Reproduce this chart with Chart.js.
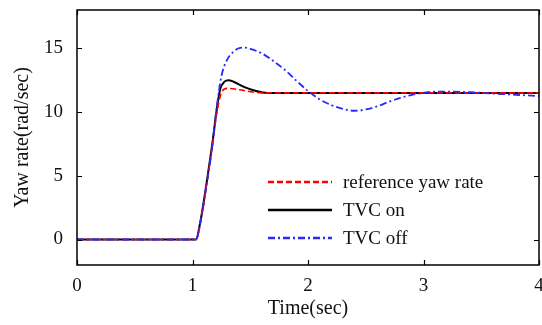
<!DOCTYPE html>
<html lang="en">
<head>
<meta charset="UTF-8">
<title>Yaw rate</title>
<script src="https://cdn.jsdelivr.net/npm/chart.js"></script>
<style>
  html, body { margin: 0; padding: 0; background: #fff; }
  #wrap { width: 542px; height: 325px; }
</style>
</head>
<body>
<div id="wrap"><canvas id="myChart" width="542" height="325"></canvas></div>
<script>
// values
var refTime = [0, 1.0, 1.03, 1.07, 1.12, 1.17, 1.21, 1.25, 1.30, 1.40, 1.50, 1.60, 2.0, 3.0, 4.0];
var refYaw  = [0, 0, 0, 1.4, 4.2, 7.2, 9.9, 11.5, 11.85, 11.75, 11.6, 11.5, 11.5, 11.5, 11.5];

var onTime = [0, 1.0, 1.03, 1.07, 1.12, 1.17, 1.21, 1.24, 1.28, 1.31, 1.36, 1.45, 1.55, 1.65, 2.0, 3.0, 4.0];
var onYaw  = [0, 0, 0, 1.5, 4.3, 7.4, 10.2, 11.8, 12.4, 12.5, 12.35, 11.95, 11.65, 11.5, 11.5, 11.5, 11.5];

var offTime = [0, 1.0, 1.03, 1.07, 1.12, 1.17, 1.21, 1.25, 1.30, 1.35, 1.40, 1.45, 1.50, 1.60, 1.70, 1.80, 1.90, 2.0,
               2.1, 2.2, 2.3, 2.4, 2.5, 2.6, 2.7, 2.8, 2.9, 3.0, 3.1, 3.2, 3.4, 3.6, 3.8, 4.0];
var offYaw  = [0, 0, 0, 1.4, 4.2, 7.2, 10.4, 12.8, 14.1, 14.7, 15.0, 15.05, 14.95, 14.6, 14.0, 13.3, 12.45, 11.65,
               11.0, 10.55, 10.25, 10.1, 10.2, 10.45, 10.8, 11.1, 11.35, 11.5, 11.6, 11.6, 11.55, 11.45, 11.35, 11.25];

var xTicks = [0, 1, 2, 3, 4];
var yTicks = [0, 5, 10, 15];
var seriesNames = ['reference yaw rate', 'TVC on', 'TVC off'];

function pts(t, v) {
  return t.map(function (x, i) { return { x: x, y: v[i] }; });
}

var serif = "'Liberation Serif', 'Times New Roman', serif";

// box round the plot with inward ticks on all four sides, MATLAB style
var frame = {
  id: 'frame',
  afterDatasetsDraw: function (chart) {
    var c = chart.ctx, a = chart.chartArea;
    var xs = chart.scales.x, ys = chart.scales.y;
    c.save();
    c.strokeStyle = '#000';
    c.lineWidth = 1.5;
    c.strokeRect(a.left, a.top, a.right - a.left, a.bottom - a.top);
    c.lineWidth = 1.2;
    c.beginPath();
    xTicks.forEach(function (t) {
      var px = Math.round(xs.getPixelForValue(t)) + 0.5;
      c.moveTo(px, a.bottom); c.lineTo(px, a.bottom - 5);
      c.moveTo(px, a.top); c.lineTo(px, a.top + 5);
    });
    yTicks.forEach(function (t) {
      var py = Math.round(ys.getPixelForValue(t)) + 0.5;
      c.moveTo(a.left, py); c.lineTo(a.left + 5, py);
      c.moveTo(a.right, py); c.lineTo(a.right - 5, py);
    });
    c.stroke();
    c.restore();
  }
};

// legend sitting inside the plot, lower right
var insideLegend = {
  id: 'insideLegend',
  afterDraw: function (chart) {
    var c = chart.ctx, a = chart.chartArea;
    var x0 = a.left + 191, x1 = a.left + 255, tx = a.left + 266;
    var rows = [182, 210, 238];
    c.save();
    c.font = '19px ' + serif;
    c.textBaseline = 'middle';
    chart.data.datasets.forEach(function (ds, i) {
      var y = rows[i];
      c.strokeStyle = ds.borderColor;
      c.lineWidth = 2.5;
      c.setLineDash(ds.borderDash || []);
      c.beginPath(); c.moveTo(x0, y); c.lineTo(x1, y); c.stroke();
      c.setLineDash([]);
      c.fillStyle = '#111';
      c.fillText(seriesNames[i], tx, y + 1);
    });
    c.restore();
  }
};

var config = {
  type: 'line',
  data: {
    datasets: [
      { label: seriesNames[0], data: pts(refTime, refYaw), borderColor: 'rgb(255,0,0)', borderWidth: 1.6,
        borderDash: [6, 3], order: 1 },
      { label: seriesNames[1], data: pts(onTime, onYaw), borderColor: 'rgb(0,0,0)', borderWidth: 2,
        order: 2 },
      { label: seriesNames[2], data: pts(offTime, offYaw), borderColor: 'rgb(40,40,255)', borderWidth: 1.8,
        borderDash: [7, 3, 2, 3], order: 0 }
    ]
  },
  options: {
    responsive: false,
    animation: false,
    layout: { padding: { top: 10, right: 3, left: 0, bottom: 0 } },
    elements: {
      point: { radius: 0 },
      line: { cubicInterpolationMode: 'monotone' }
    },
    plugins: { legend: { display: false }, tooltip: { enabled: false } },
    scales: {
      x: {
        type: 'linear', min: 0, max: 4,
        afterBuildTicks: function (s) { s.ticks = xTicks.map(function (v) { return { value: v }; }); },
        afterFit: function (s) { s.height = 60; s.paddingLeft = 0; s.paddingRight = 0; },
        grid: { display: false },
        border: { display: false },
        ticks: { color: '#111', font: { family: serif, size: 19 }, padding: 2 },
        title: { display: true, text: 'Time(sec)', color: '#111', font: { family: serif, size: 20 }, padding: { top: 0 } }
      },
      y: {
        type: 'linear', min: -2, max: 18,
        afterBuildTicks: function (s) { s.ticks = yTicks.map(function (v) { return { value: v }; }); },
        afterFit: function (s) { s.width = 77; s.paddingTop = 0; s.paddingBottom = 0; },
        grid: { display: false },
        border: { display: false },
        ticks: { color: '#111', font: { family: serif, size: 19 }, padding: 6 },
        title: { display: true, text: 'Yaw rate(rad/sec)', color: '#111', font: { family: serif, size: 20 }, padding: { top: 11, bottom: 0 } }
      }
    }
  },
  plugins: [frame, insideLegend]
};

var myChart = new Chart(document.getElementById('myChart'), config);
</script>
</body>
</html>
